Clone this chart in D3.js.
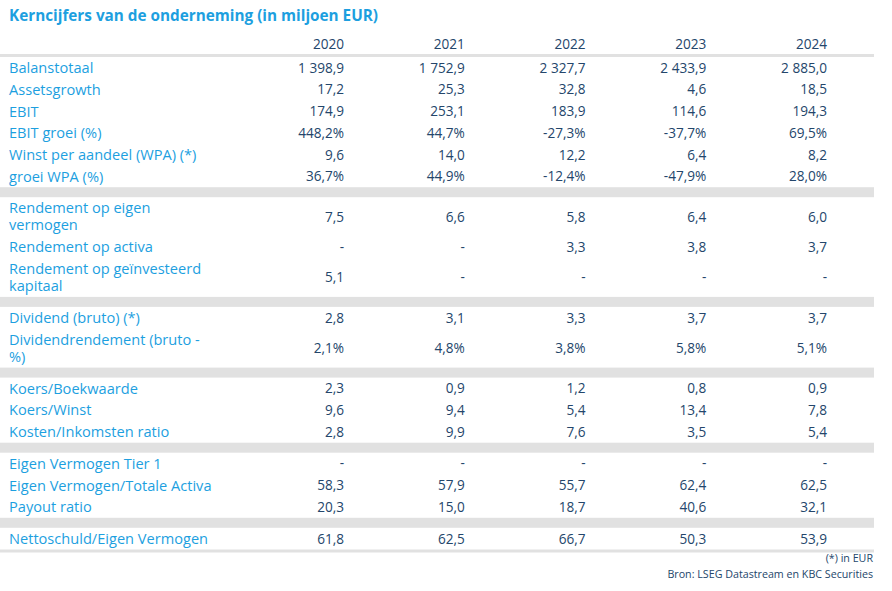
<!DOCTYPE html>
<html><head><meta charset="utf-8">
<script src="https://cdn.jsdelivr.net/npm/d3@7"></script>
<style>
html,body{margin:0;padding:0;background:#fff;}
svg{display:block;font-family:"Open Sans","Noto Sans",sans-serif;}
</style></head>
<body><svg id="c" width="892" height="591"></svg>
<script>
const title = "Kerncijfers van de onderneming (in miljoen EUR)";
const years = ["2020","2021","2022","2023","2024"];
// groups of row labels (\n marks a wrapped line)
const group1Labels = ["Balanstotaal","Assetsgrowth","EBIT","EBIT groei (%)","Winst per aandeel (WPA) (*)","groei WPA (%)"];
const group1Values = [
  ["1 398,9","1 752,9","2 327,7","2 433,9","2 885,0"],
  ["17,2","25,3","32,8","4,6","18,5"],
  ["174,9","253,1","183,9","114,6","194,3"],
  ["448,2%","44,7%","-27,3%","-37,7%","69,5%"],
  ["9,6","14,0","12,2","6,4","8,2"],
  ["36,7%","44,9%","-12,4%","-47,9%","28,0%"]
];
const group2Labels = ["Rendement op eigen\nvermogen","Rendement op activa","Rendement op geïnvesteerd\nkapitaal"];
const group2Values = [
  ["7,5","6,6","5,8","6,4","6,0"],
  ["-","-","3,3","3,8","3,7"],
  ["5,1","-","-","-","-"]
];
const group3Labels = ["Dividend (bruto) (*)","Dividendrendement (bruto -\n%)"];
const group3Values = [
  ["2,8","3,1","3,3","3,7","3,7"],
  ["2,1%","4,8%","3,8%","5,8%","5,1%"]
];
const group4Labels = ["Koers/Boekwaarde","Koers/Winst","Kosten/Inkomsten ratio"];
const group4Values = [
  ["2,3","0,9","1,2","0,8","0,9"],
  ["9,6","9,4","5,4","13,4","7,8"],
  ["2,8","9,9","7,6","3,5","5,4"]
];
const group5Labels = ["Eigen Vermogen Tier 1","Eigen Vermogen/Totale Activa","Payout ratio"];
const group5Values = [
  ["-","-","-","-","-"],
  ["58,3","57,9","55,7","62,4","62,5"],
  ["20,3","15,0","18,7","40,6","32,1"]
];
const group6Labels = ["Nettoschuld/Eigen Vermogen"];
const group6Values = [["61,8","62,5","66,7","50,3","53,9"]];
const footnotes = ["(*) in EUR","Bron: LSEG Datastream en KBC Securities"];

const groups = [
  {labels: group1Labels, values: group1Values},
  {labels: group2Labels, values: group2Values},
  {labels: group3Labels, values: group3Values},
  {labels: group4Labels, values: group4Values},
  {labels: group5Labels, values: group5Values},
  {labels: group6Labels, values: group6Values}
];

const svg = d3.select("#c");
const blue = "#1d9fdf", navy = "#24466b", grey = "#e1e1e1";
const fs = 13.6, lfs = 14.6;
const tableRight = 874;
const x = d3.scalePoint().domain(years).range([344, 827]);

// title
svg.append("text").attr("x", 9).attr("y", 21).attr("fill", blue)
  .attr("font-size", 15.3).attr("font-weight", "bold").text(title);

// header
svg.selectAll("text.yr").data(years).join("text").attr("class","yr")
  .attr("x", d => x(d)).attr("y", 49).attr("text-anchor","end")
  .attr("fill", navy).attr("font-size", fs).text(d => d);
svg.append("rect").attr("x",0).attr("y",54).attr("width",tableRight).attr("height",3).attr("fill",grey);

// layout rows
const singleH = 21.7, doubleH = 39, bandH = 10, lineGap = 17;
let y = 57;
groups.forEach((g, gi) => {
  if (gi > 0) {
    svg.append("rect").attr("x",0).attr("y",y).attr("width",tableRight).attr("height",bandH).attr("fill",grey);
    y += bandH;
  }
  g.labels.forEach((lab, ri) => {
    const lines = lab.split("\n");
    const h = lines.length > 1 ? doubleH : singleH;
    const cy = y + h / 2;
    lines.forEach((ln, li) => {
      svg.append("text").attr("x", 9).attr("fill", blue).attr("font-size", lfs)
        .attr("y", cy + (li - (lines.length - 1) / 2) * lineGap + lfs * 0.36)
        .text(ln);
    });
    svg.append("g").selectAll("text").data(g.values[ri]).join("text")
      .attr("x", (d, i) => x(years[i])).attr("y", cy + fs * 0.36)
      .attr("text-anchor","end").attr("fill", navy).attr("font-size", fs).text(d => d);
    y += h;
  });
});
svg.append("rect").attr("x",0).attr("y",y).attr("width",tableRight).attr("height",3).attr("fill",grey);

// footnotes
svg.selectAll("text.fn").data(footnotes).join("text").attr("class","fn")
  .attr("x", 873).attr("y", (d,i) => 562 + i * 16).attr("text-anchor","end")
  .attr("fill", navy).attr("font-size", 10.7).text(d => d);
</script></body></html>
